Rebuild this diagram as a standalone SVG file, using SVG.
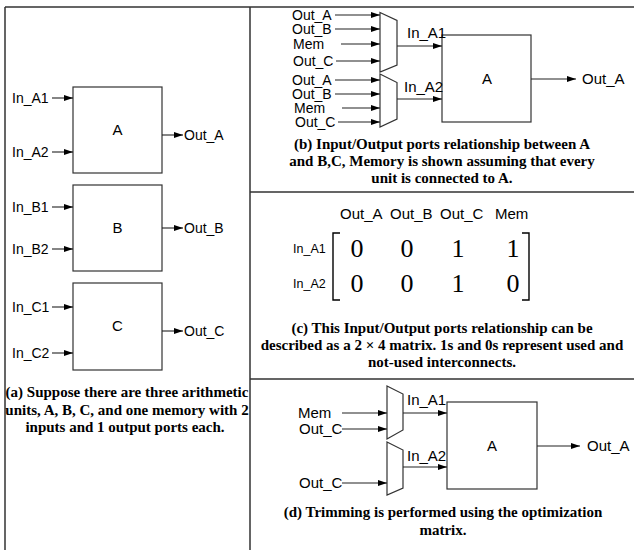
<svg xmlns="http://www.w3.org/2000/svg" width="634" height="550" viewBox="0 0 634 550">
<style>
.frame{stroke:#333;stroke-width:1.5;fill:none}
.box{fill:#fff;stroke:#333;stroke-width:1.2}
.mux{fill:#fff;stroke:#333;stroke-width:1.2}
.wire{stroke:#222;stroke-width:1.1;fill:none}
.lbl{font-family:"Liberation Sans",Arial,sans-serif;font-size:14px;fill:#000}
.lbl15{font-family:"Liberation Sans",Arial,sans-serif;font-size:15px;fill:#000}
.small{font-family:"Liberation Sans",Arial,sans-serif;font-size:12.5px;fill:#000}
.cap{font-family:"Liberation Serif","Times New Roman",serif;font-size:15px;font-weight:bold;fill:#000;text-anchor:middle}
.num{font-family:"Liberation Serif","Times New Roman",serif;font-size:26px;fill:#000;text-anchor:middle}
.mid{text-anchor:middle}
.brk{stroke:#000;stroke-width:1.4;fill:none}
</style>
<defs>
<marker id="ah" markerWidth="9" markerHeight="6" refX="9" refY="3" orient="auto" markerUnits="userSpaceOnUse">
<path d="M0,0 L9,3 L0,6 z" fill="#000"/>
</marker>
</defs>
<rect width="634" height="550" fill="#fff"/>
<g id="frame">
<path class="frame" d="M5,7 H634 M5,7 V550 M250,7 V550 M250,192 H634 M250,379 H634"/>
</g>

<!-- (a) left column -->
<g id="unitA">
<rect class="box" x="73" y="87" width="89" height="86"/>
<text class="lbl15 mid" x="117.5" y="135">A</text>
<text class="lbl" x="12" y="103">In_A1</text>
<text class="lbl" x="12" y="157">In_A2</text>
<text class="lbl" x="184" y="140">Out_A</text>
</g>
<g id="unitB">
<rect class="box" x="73" y="185" width="89" height="86"/>
<text class="lbl15 mid" x="117.5" y="233">B</text>
<text class="lbl" x="12" y="212">In_B1</text>
<text class="lbl" x="12" y="254">In_B2</text>
<text class="lbl" x="184" y="233">Out_B</text>
</g>
<g id="unitC">
<rect class="box" x="73" y="283" width="89" height="87"/>
<text class="lbl15 mid" x="117.5" y="331">C</text>
<text class="lbl" x="12" y="312">In_C1</text>
<text class="lbl" x="12" y="358">In_C2</text>
<text class="lbl" x="184" y="336">Out_C</text>
</g>
<g id="captionA">
<text class="cap" x="127" y="397">(a) Suppose there are three arithmetic</text>
<text class="cap" x="127" y="415">units, A, B, C, and one memory with  2</text>
<text class="cap" x="125" y="432">inputs and 1 output ports each.</text>
</g>

<!-- (b) -->
<g id="muxB1"><polygon class="mux" points="380,12.5 397,20.5 397,65 380,72"/></g>
<g id="muxB2"><polygon class="mux" points="380,74 397,82.5 397,119 380,127"/></g>
<g id="unitA_b">
<rect class="box" x="442" y="35" width="89" height="87"/>
<text class="lbl15 mid" x="487" y="84">A</text>
</g>
<g id="labelsB">
<text class="lbl" x="292" y="20">Out_A</text>
<text class="lbl" x="292" y="34">Out_B</text>
<text class="lbl" x="293" y="49">Mem</text>
<text class="lbl" x="293" y="66">Out_C</text>
<text class="lbl" x="292" y="85">Out_A</text>
<text class="lbl" x="292" y="99">Out_B</text>
<text class="lbl" x="294" y="113">Mem</text>
<text class="lbl" x="295" y="127">Out_C</text>
<text class="lbl15" x="407" y="38">In_A1</text>
<text class="lbl15" x="404" y="92">In_A2</text>
<text class="lbl15" x="582" y="84">Out_A</text>
</g>
<g id="captionB">
<text class="cap" x="442" y="149">(b) Input/Output ports relationship between A</text>
<text class="cap" x="442" y="166">and B,C, Memory is shown assuming that every</text>
<text class="cap" x="442" y="183">unit is connected to A.</text>
</g>

<!-- (c) -->
<g id="matrix">
<text class="lbl15" x="340" y="219">Out_A</text>
<text class="lbl15" x="390" y="219">Out_B</text>
<text class="lbl15" x="440" y="219">Out_C</text>
<text class="lbl15" x="495" y="219">Mem</text>
<text class="small" x="293" y="253">In_A1</text>
<text class="small" x="293" y="288">In_A2</text>
<path class="brk" d="M340,233 H333 V300 H340 M522,233 H529 V300 H522"/>
<text class="num" x="357" y="257">0</text>
<text class="num" x="407" y="257">0</text>
<text class="num" x="458" y="257">1</text>
<text class="num" x="513" y="257">1</text>
<text class="num" x="357" y="292">0</text>
<text class="num" x="407" y="292">0</text>
<text class="num" x="458" y="292">1</text>
<text class="num" x="513" y="292">0</text>
</g>
<g id="captionC">
<text class="cap" x="442" y="333">(c) This Input/Output ports relationship can be</text>
<text class="cap" x="442" y="350">described as a 2 × 4 matrix. 1s and 0s represent used and</text>
<text class="cap" x="442" y="367">not-used interconnects.</text>
</g>

<!-- (d) -->
<g id="muxD1"><polygon class="mux" points="387,386 403,394 403,430 387,439"/></g>
<g id="muxD2"><polygon class="mux" points="387,442 403,450 403,488 387,495"/></g>
<g id="unitA_d">
<rect class="box" x="447" y="402" width="90" height="87"/>
<text class="lbl15 mid" x="492" y="451">A</text>
</g>
<g id="labelsD">
<text class="lbl15" x="298" y="418">Mem</text>
<text class="lbl15" x="299" y="434">Out_C</text>
<text class="lbl15" x="299" y="488">Out_C</text>
<text class="lbl15" x="407" y="405">In_A1</text>
<text class="lbl15" x="407" y="461">In_A2</text>
<text class="lbl15" x="587" y="451">Out_A</text>
</g>
<g id="captionD">
<text class="cap" x="443" y="517">(d) Trimming is performed using the optimization</text>
<text class="cap" x="443" y="535">matrix.</text>
</g>

<g id="connectors" class="wire" marker-end="url(#ah)">
<line x1="52" y1="98" x2="73" y2="98"/>
<line x1="52" y1="152" x2="73" y2="152"/>
<line x1="162" y1="135" x2="183" y2="135"/>
<line x1="52" y1="207" x2="73" y2="207"/>
<line x1="52" y1="249" x2="73" y2="249"/>
<line x1="162" y1="228" x2="183" y2="228"/>
<line x1="52" y1="307" x2="73" y2="307"/>
<line x1="52" y1="353" x2="73" y2="353"/>
<line x1="162" y1="331" x2="183" y2="331"/>

<line x1="335" y1="15" x2="380" y2="15"/>
<line x1="335" y1="29" x2="380" y2="29"/>
<line x1="341" y1="44" x2="380" y2="44"/>
<line x1="336" y1="61" x2="380" y2="61"/>
<line x1="335" y1="80" x2="380" y2="80"/>
<line x1="335" y1="94" x2="380" y2="94"/>
<line x1="342" y1="108" x2="380" y2="108"/>
<line x1="338" y1="122" x2="380" y2="122"/>
<line x1="397" y1="46" x2="442" y2="46"/>
<line x1="397" y1="99" x2="442" y2="99"/>
<line x1="531" y1="79" x2="576" y2="79"/>

<line x1="342" y1="413" x2="387" y2="413"/>
<line x1="342" y1="429" x2="387" y2="429"/>
<line x1="342" y1="483" x2="387" y2="483"/>
<line x1="403" y1="413" x2="447" y2="413"/>
<line x1="403" y1="467" x2="447" y2="467"/>
<line x1="537" y1="446" x2="580" y2="446"/>
</g>
</svg>
